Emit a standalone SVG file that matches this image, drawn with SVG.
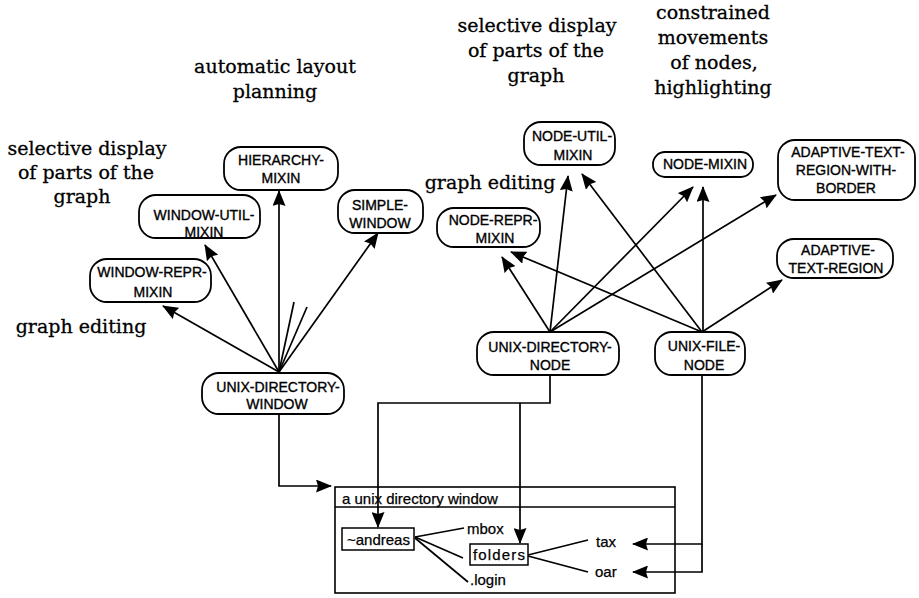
<svg xmlns="http://www.w3.org/2000/svg" width="919" height="598" viewBox="0 0 919 598">
  <style>
    .bg { fill: #ffffff; }
    .node rect { fill: #ffffff; stroke: #000; stroke-width: 1.8; }
    .node text { font-family: "Liberation Sans", Arial, sans-serif; font-size: 14px; fill: #000; stroke: #000; stroke-width: 0.35; text-anchor: middle; }
    .note { font-family: "DejaVu Serif", "Liberation Serif", serif; font-size: 19px; fill: #000; stroke: #000; stroke-width: 0.3; text-anchor: middle; }
    .edge { fill: none; stroke: #000; stroke-width: 1.7; }
    .arrow { marker-end: url(#head); }
    .win { fill: #ffffff; stroke: #000; stroke-width: 1.6; }
    .wtext { font-family: "Liberation Sans", Arial, sans-serif; font-size: 15px; fill: #000; stroke: #000; stroke-width: 0.25; }
    .item { fill: #ffffff; stroke: #000; stroke-width: 1.5; }
  </style>
  <defs>
    <marker id="head" markerUnits="userSpaceOnUse" markerWidth="16" markerHeight="13" viewBox="0 0 16 13" refX="15" refY="6.5" orient="auto">
      <path d="M0,0 L16,6.5 L0,13 L2,6.5 Z" fill="#000"/>
    </marker>
  </defs>

  <rect class="bg" x="0" y="0" width="919" height="598"/>

  <!-- annotations -->
  <g id="notes">
    <text class="note" x="275" y="73">automatic layout</text>
    <text class="note" x="275" y="98">planning</text>
    <text class="note" x="87" y="155">selective display</text>
    <text class="note" x="86" y="179">of parts of the</text>
    <text class="note" x="82" y="203">graph</text>
    <text class="note" x="81" y="333">graph editing</text>
    <text class="note" x="537" y="32">selective display</text>
    <text class="note" x="536" y="57">of parts of the</text>
    <text class="note" x="536" y="82">graph</text>
    <text class="note" x="713" y="19">constrained</text>
    <text class="note" x="713" y="44">movements</text>
    <text class="note" x="714" y="69">of nodes,</text>
    <text class="note" x="713" y="94">highlighting</text>
    <text class="note" x="490" y="189">graph editing</text>
  </g>

  <!-- the directory window instance -->
  <g id="directory-window">
    <rect class="win" x="335" y="487" width="340" height="106"/>
    <line class="win" x1="335" y1="507" x2="675" y2="507"/>
    <text class="wtext" x="342" y="504" font-size="14">a unix directory window</text>
    <polyline class="edge" points="415,537 464,528"/>
    <polyline class="edge" points="415,537 463,558"/>
    <polyline class="edge" points="415,538 468,582"/>
    <polyline class="edge" points="528,555 588,540"/>
    <polyline class="edge" points="528,556 588,572"/>
    <rect class="item" x="342" y="528" width="72" height="22"/>
    <text class="wtext" x="347" y="545">~andreas</text>
    <text class="wtext" x="467" y="534">mbox</text>
    <rect class="item" x="470" y="544" width="58" height="21"/>
    <text class="wtext" x="473" y="560" textLength="52">folders</text>
    <text class="wtext" x="470" y="585">.login</text>
    <text class="wtext" x="596" y="547">tax</text>
    <text class="wtext" x="595" y="577">oar</text>
  </g>

  <!-- connectors -->
  <g id="connectors">
    <!-- UNIX-DIRECTORY-WINDOW to its mixins -->
    <line class="edge arrow" x1="279" y1="372" x2="163" y2="306"/>
    <line class="edge arrow" x1="279" y1="372" x2="205" y2="245"/>
    <line class="edge arrow" x1="279" y1="372" x2="279" y2="191"/>
    <line class="edge arrow" x1="279" y1="372" x2="378" y2="233"/>
    <line class="edge" x1="279" y1="372" x2="294" y2="302"/>
    <line class="edge" x1="279" y1="372" x2="307" y2="307"/>
    <!-- UNIX-DIRECTORY-NODE to its mixins -->
    <line class="edge arrow" x1="550" y1="332" x2="502" y2="257"/>
    <line class="edge arrow" x1="550" y1="332" x2="568" y2="176"/>
    <line class="edge arrow" x1="550" y1="332" x2="693" y2="187"/>
    <line class="edge arrow" x1="550" y1="332" x2="776" y2="195"/>
    <!-- UNIX-FILE-NODE to its mixins -->
    <line class="edge arrow" x1="702" y1="332" x2="511" y2="252"/>
    <line class="edge arrow" x1="702" y1="332" x2="582" y2="174"/>
    <line class="edge arrow" x1="703" y1="332" x2="703" y2="187"/>
    <line class="edge arrow" x1="702" y1="332" x2="782" y2="280"/>
    <!-- class to instance links -->
    <polyline class="edge arrow" points="279,414 279,486 331,486"/>
    <polyline class="edge arrow" points="550,375 550,403 378,403 378,527"/>
    <polyline class="edge arrow" points="520,403 520,543"/>
    <polyline class="edge arrow" points="702,375 702,544 633,544"/>
    <polyline class="edge arrow" points="702,544 702,572 633,572"/>
  </g>

  <!-- class nodes -->
  <g id="hierarchy-mixin" class="node">
    <rect x="224" y="147" width="114" height="43" rx="17"/>
    <text x="281" y="165">HIERARCHY-</text>
    <text x="281" y="183">MIXIN</text>
  </g>
  <g id="window-util-mixin" class="node">
    <rect x="139" y="195" width="121" height="43" rx="17"/>
    <text x="204" y="220">WINDOW-UTIL-</text>
    <text x="204" y="237">MIXIN</text>
  </g>
  <g id="simple-window" class="node">
    <rect x="338" y="190" width="85" height="43" rx="17"/>
    <text x="380" y="210">SIMPLE-</text>
    <text x="380" y="228">WINDOW</text>
  </g>
  <g id="window-repr-mixin" class="node">
    <rect x="90" y="259" width="121" height="43" rx="17"/>
    <text x="152" y="277">WINDOW-REPR-</text>
    <text x="153" y="297">MIXIN</text>
  </g>
  <g id="unix-directory-window" class="node">
    <rect x="202" y="373" width="142" height="41" rx="17"/>
    <text x="278" y="392">UNIX-DIRECTORY-</text>
    <text x="277" y="409">WINDOW</text>
  </g>
  <g id="node-util-mixin" class="node">
    <rect x="524" y="122" width="91" height="43" rx="17"/>
    <text x="572" y="141">NODE-UTIL-</text>
    <text x="573" y="160">MIXIN</text>
  </g>
  <g id="node-mixin" class="node">
    <rect x="653" y="152" width="100" height="25" rx="12"/>
    <text x="705" y="169">NODE-MIXIN</text>
  </g>
  <g id="adaptive-text-region-with-border" class="node">
    <rect x="778" y="140" width="137" height="60" rx="17"/>
    <text x="848" y="157">ADAPTIVE-TEXT-</text>
    <text x="846" y="175">REGION-WITH-</text>
    <text x="846" y="193">BORDER</text>
  </g>
  <g id="node-repr-mixin" class="node">
    <rect x="437" y="208" width="103" height="39" rx="17"/>
    <text x="493" y="225">NODE-REPR-</text>
    <text x="495" y="243">MIXIN</text>
  </g>
  <g id="adaptive-text-region" class="node">
    <rect x="777" y="239" width="116" height="39" rx="17"/>
    <text x="838" y="255">ADAPTIVE-</text>
    <text x="836" y="273">TEXT-REGION</text>
  </g>
  <g id="unix-directory-node" class="node">
    <rect x="477" y="332" width="142" height="43" rx="17"/>
    <text x="550" y="352">UNIX-DIRECTORY-</text>
    <text x="550" y="370">NODE</text>
  </g>
  <g id="unix-file-node" class="node">
    <rect x="655" y="332" width="90" height="43" rx="17"/>
    <text x="704" y="351">UNIX-FILE-</text>
    <text x="704" y="370">NODE</text>
  </g>
</svg>
